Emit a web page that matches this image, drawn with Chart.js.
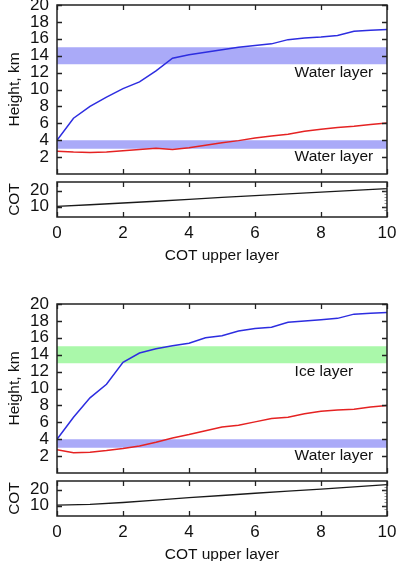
<!DOCTYPE html>
<html><head><meta charset="utf-8">
<script src="https://cdn.jsdelivr.net/npm/chart.js@4"></script>
<style>
html,body{margin:0;padding:0;background:#fff;overflow:hidden;width:401px;height:561px;}
.box{position:absolute;left:0;width:401px;}
canvas{display:block;}
</style></head><body>
<div class="box" style="top:0px"><canvas id="hA" width="401" height="180"></canvas></div>
<div class="box" style="top:176px"><canvas id="cA" width="401" height="94"></canvas></div>
<div class="box" style="top:289px"><canvas id="hB" width="401" height="190"></canvas></div>
<div class="box" style="top:475px"><canvas id="cB" width="401" height="94"></canvas></div>
<script>
// ---- data ----
const xValues = [0,0.5,1,1.5,2,2.5,3,3.5,4,4.5,5,5.5,6,6.5,7,7.5,8,8.5,9,9.5,10];
const upperHeightA = [4.0,6.6,8.0,9.1,10.1,10.9,12.2,13.7,14.1,14.4,14.7,15.0,15.2,15.4,15.9,16.1,16.2,16.4,16.9,17.0,17.1];
const lowerHeightA = [2.7,2.6,2.55,2.6,2.75,2.9,3.05,2.9,3.1,3.4,3.7,3.95,4.25,4.5,4.7,5.05,5.3,5.5,5.65,5.85,6.05];
const upperHeightB = [4.0,6.6,8.9,10.5,13.1,14.2,14.7,15.05,15.35,16.0,16.25,16.8,17.1,17.25,17.85,18.0,18.15,18.3,18.8,18.9,19.0];
const lowerHeightB = [2.75,2.4,2.45,2.65,2.9,3.2,3.65,4.15,4.55,5.0,5.45,5.65,6.05,6.45,6.6,7.0,7.3,7.45,7.55,7.8,8.0];
const cotX = [0,1,2,3,4,5,6,7,8,9,10];
const cotA = [10.2,11.2,12.3,13.4,14.6,15.8,16.9,18.0,19.1,20.2,21.3];
const cotB = [10.3,10.8,12.0,13.5,15.0,16.4,17.8,19.1,20.4,21.8,23.2];
const bandBottomA = [13,3];
const bandTopA = [15,4];
const bandNamesA = ['Water layer','Water layer'];
const bandBottomB = [13,3];
const bandTopB = [15,4];
const bandNamesB = ['Ice layer','Water layer'];
const xTicks = [0,2,4,6,8,10];
const heightTicks = [2,4,6,8,10,12,14,16,18,20];
const cotTicks = [10,20];
const xTitle = 'COT upper layer';
const heightTitle = 'Height, km';
const cotTitle = 'COT';

// ---- styles ----
const FONT = 'Liberation Sans, Arial, Helvetica, sans-serif';
const BLUE = '#2d2de0', RED = '#e52222', BLACK = '#1a1a1a';
const WATER = 'rgba(170,170,248,1)', ICE = 'rgba(170,248,170,1)';
const TICK_SIZE = 17, TEXT_SIZE = 15.5;

const framePlugin = {
  id: 'frame',
  afterDatasetsDraw(chart, args, o) {
    const {ctx, chartArea: a, scales: {x, y}} = chart;
    ctx.save();
    ctx.strokeStyle = '#222';
    ctx.lineWidth = 1.3;
    ctx.beginPath();
    const L = 5;
    (o.xTicks || []).forEach(v => {
      const px = Math.round(x.getPixelForValue(v)) + 0.5;
      ctx.moveTo(px, a.bottom); ctx.lineTo(px, a.bottom - L);
      ctx.moveTo(px, a.top); ctx.lineTo(px, a.top + L);
    });
    (o.yTicks || []).forEach(v => {
      const py = Math.round(y.getPixelForValue(v)) + 0.5;
      ctx.moveTo(a.left, py); ctx.lineTo(a.left + L, py);
      ctx.moveTo(a.right, py); ctx.lineTo(a.right - L, py);
    });
    ctx.stroke();
    if (o.minorRight) {
      ctx.lineWidth = 0.6;
      ctx.strokeStyle = '#555';
      ctx.beginPath();
      for (let v = o.minorRight[0]; v <= o.minorRight[1]; v += 2) {
        const py = Math.round(y.getPixelForValue(v)) + 0.5;
        ctx.moveTo(a.right, py); ctx.lineTo(a.right - 2.5, py);
      }
      ctx.stroke();
      ctx.strokeStyle = '#222';
    }
    ctx.lineWidth = 1.5;
    ctx.strokeRect(a.left, a.top, a.right - a.left, a.bottom - a.top);
    (o.labels || []).forEach(l => {
      ctx.fillStyle = '#111';
      ctx.font = TEXT_SIZE + 'px ' + FONT;
      ctx.textAlign = 'left';
      ctx.textBaseline = 'middle';
      ctx.fillText(l.text, x.getPixelForValue(l.x), y.getPixelForValue(l.y));
    });
    ctx.restore();
  }
};

function pts(xs, ys) { return xs.map((x, i) => ({x, y: ys[i]})); }
function noPad(s) { s.paddingTop = 0; s.paddingBottom = 0; s.paddingLeft = 0; s.paddingRight = 0; }

function heightChart(id, upper, lower, bLow, bHigh, names, colors, padTop) {
  const bandSets = bLow.map((lo, i) => ({
    data: [{x: 0, y: bHigh[i]}, {x: 10, y: bHigh[i]}],
    fill: {value: lo},
    backgroundColor: colors[i],
    borderWidth: 0,
    pointRadius: 0
  }));
  new Chart(document.getElementById(id), {
    type: 'line',
    data: {
      datasets: [
        {data: pts(xValues, upper), borderColor: BLUE, borderWidth: 1.5, pointRadius: 0, fill: false},
        {data: pts(xValues, lower), borderColor: RED, borderWidth: 1.5, pointRadius: 0, fill: false},
        ...bandSets
      ]
    },
    options: {
      responsive: false, animation: false,
      layout: {padding: {top: padTop, bottom: 6, right: 14, left: 0}},
      plugins: {
        legend: {display: false}, tooltip: {enabled: false},
        frame: {
          xTicks: xTicks, yTicks: heightTicks,
          labels: [{text: names[0], x: 7.2, y: 12}, {text: names[1], x: 7.2, y: 2}]
        }
      },
      scales: {
        x: {type: 'linear', min: 0, max: 10, display: false, afterFit: noPad},
        y: {
          type: 'linear', min: 0, max: 20,
          afterBuildTicks: s => { s.ticks = heightTicks.map(v => ({value: v})); },
          afterFit: s => { s.width = 57; noPad(s); },
          grid: {display: false, drawTicks: false}, border: {display: false},
          ticks: {padding: 8, autoSkip: false, color: '#111', font: {family: FONT, size: TICK_SIZE}},
          title: {display: true, text: heightTitle, color: '#111', padding: {top: 5, bottom: 0}, font: {family: FONT, size: TEXT_SIZE}}
        }
      }
    },
    plugins: [framePlugin]
  });
}

function cotChart(id, vals) {
  new Chart(document.getElementById(id), {
    type: 'line',
    data: {datasets: [{data: pts(cotX, vals), borderColor: BLACK, borderWidth: 1.3, pointRadius: 0, fill: false}]},
    options: {
      responsive: false, animation: false,
      layout: {padding: {top: 6, bottom: 0, right: 14, left: 0}},
      plugins: {
        legend: {display: false}, tooltip: {enabled: false},
        frame: {xTicks: xTicks, yTicks: cotTicks, minorRight: [8, 22]}
      },
      scales: {
        x: {
          type: 'linear', min: 0, max: 10,
          afterBuildTicks: s => { s.ticks = xTicks.map(v => ({value: v})); },
          afterFit: s => { s.height = 53; noPad(s); },
          grid: {display: false, drawTicks: false}, border: {display: false},
          ticks: {padding: 6, autoSkip: false, color: '#111', maxRotation: 0, font: {family: FONT, size: TICK_SIZE}},
          title: {display: true, text: xTitle, color: '#111', padding: {top: 0, bottom: 5}, font: {family: FONT, size: TEXT_SIZE}}
        },
        y: {
          type: 'linear', min: 3.5, max: 25.5,
          afterBuildTicks: s => { s.ticks = cotTicks.map(v => ({value: v})); },
          afterFit: s => { s.width = 57; noPad(s); },
          grid: {display: false, drawTicks: false}, border: {display: false},
          ticks: {padding: 8, autoSkip: false, color: '#111', font: {family: FONT, size: TICK_SIZE}},
          title: {display: true, text: cotTitle, color: '#111', padding: {top: 5, bottom: 0}, font: {family: FONT, size: TEXT_SIZE}}
        }
      }
    },
    plugins: [framePlugin]
  });
}

heightChart('hA', upperHeightA, lowerHeightA, bandBottomA, bandTopA, bandNamesA, [WATER, WATER], 5);
cotChart('cA', cotA);
heightChart('hB', upperHeightB, lowerHeightB, bandBottomB, bandTopB, bandNamesB, [ICE, WATER], 15);
cotChart('cB', cotB);
</script>
</body></html>
